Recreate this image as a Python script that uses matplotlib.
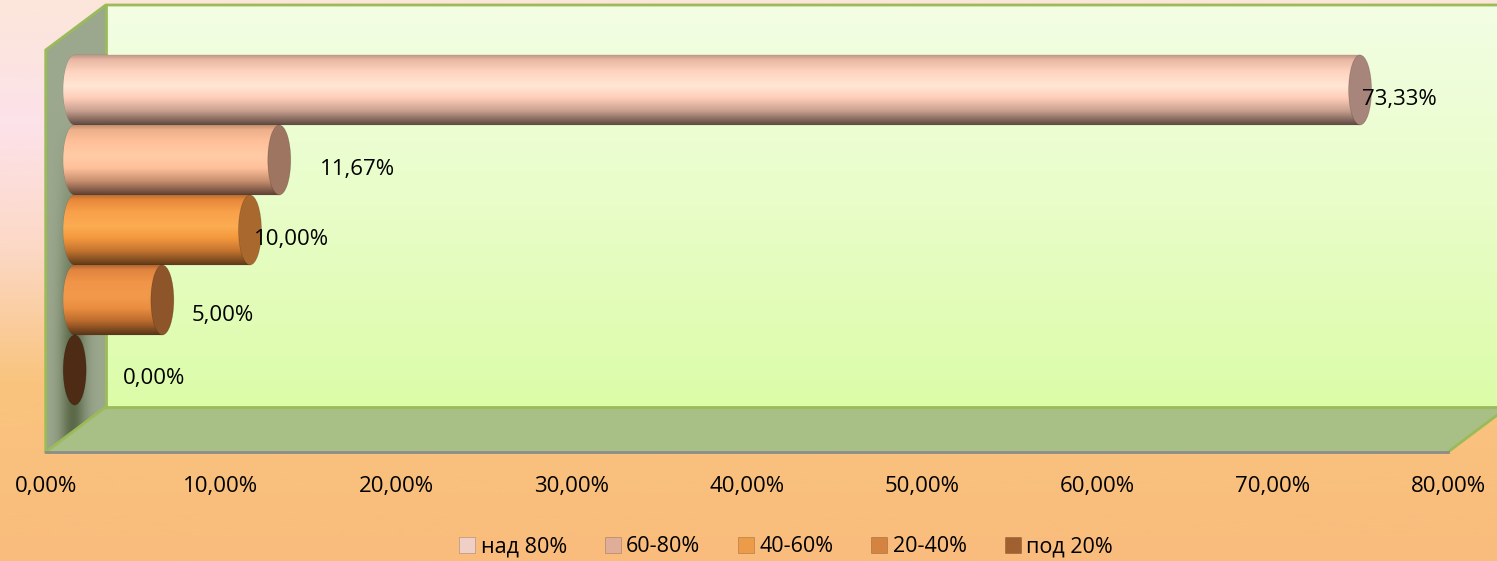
import numpy as np
import matplotlib
matplotlib.use("Agg")
from matplotlib import pyplot as plt
from matplotlib.colors import LinearSegmentedColormap, to_rgb
from matplotlib.patches import Polygon, Ellipse, Patch, PathPatch
from matplotlib.path import Path
from matplotlib.transforms import ScaledTranslation

plt.rcParams['font.family'] = ['Open Sans', 'DejaVu Sans']

# data, top bar first
categories = ["над 80%", "60-80%", "40-60%", "20-40%", "под 20%"]
values = [73.33, 11.67, 10.00, 5.00, 0.00]
ticks = [0, 10, 20, 30, 40, 50, 60, 70, 80]

# styles
body_stops = [
    ["#b89080", "#e8b8a4", "#ffd4c0", "#ffe6d4", "#ffcdb8", "#c8a090", "#5e4840"],
    ["#b88868", "#edb08a", "#ffc09a", "#ffcca6", "#ffc09a", "#c89070", "#5e4034"],
    ["#b06a2c", "#e8883a", "#f8a04a", "#fcac52", "#f4983e", "#c47430", "#5e3a18"],
    ["#a86030", "#e08440", "#f09448", "#f29a4c", "#ea8e40", "#bc6c2e", "#583418"],
    ["#4e2b14"] * 7,
]
stop_pos = [0.0, 0.08, 0.25, 0.45, 0.62, 0.8, 1.0]
cap_colors = ["#a8857a", "#9e7560", "#a8682e", "#8e552a", "#4e2b14"]
legend_colors = ["#f0d0c6", "#e0ae98", "#ec9c48", "#d48440", "#a06030"]
label_nudge = [(2, -10), (41, -10), (4, -10), (29, -15), (48, -8)]


def vgrad(stops, pos=None, n=256):
    if pos is None:
        pos = np.linspace(0, 1, len(stops))
    cm = LinearSegmentedColormap.from_list("g", list(zip(pos, [to_rgb(c) for c in stops])))
    return cm(np.linspace(0, 1, n))[:, None, :3]


fig = plt.figure(figsize=(14.97, 5.61), dpi=100)

# figure background
bg = fig.add_axes([0, 0, 1, 1])
bg.imshow(vgrad(["#fce6da", "#fce2ea", "#fcd8c4", "#f9c47e", "#f9bc7c"],
                [0.0, 0.22, 0.45, 0.68, 1.0]),
          extent=[0, 1, 0, 1], aspect='auto')
bg.set_xlim(0, 1)
bg.set_ylim(0, 1)
bg.axis('off')

W, H = 1497, 561
x0, x1, yb, yt = 45.7, 1448, 452, 50
ax = fig.add_axes([x0 / W, (H - yb) / H, (x1 - x0) / W, (yb - yt) / H])
ax.patch.set_alpha(0)

ddx = 60 / (x1 - x0)
ddy = 45 / (yb - yt)

# box: back wall, left wall (with shadow), floor
ax.imshow(vgrad(["#f3fee4", "#e8fdc8", "#dcfca8"]),
          extent=[ddx, 1 + ddx, ddy, 1 + ddy], transform=ax.transAxes,
          aspect='auto', clip_on=False, zorder=0)
lwall = Polygon([(0, 0), (0, 1), (ddx, 1 + ddy), (ddx, ddy)], closed=True,
                transform=ax.transAxes, fc="none", ec="none", clip_on=False, zorder=0.5)
ax.add_patch(lwall)
gx = np.linspace(0, 1, 64)[None, :]
gy = np.linspace(1, 0, 64)[:, None]
band = np.exp(-((gx - 0.45) / 0.22) ** 2) * np.clip((0.75 - gy) / 0.5, 0, 1)
base = np.array(to_rgb("#9ca88e"))
dark = np.array(to_rgb("#5c6a4a"))
shade = base[None, None, :] * (1 - band[..., None]) + dark[None, None, :] * band[..., None]
wim = ax.imshow(shade, extent=[0, ddx, 0, 1 + ddy], transform=ax.transAxes,
                aspect='auto', zorder=0.5, interpolation='bilinear')
wim.set_clip_box(fig.bbox)
wim.set_clip_path(lwall)
ax.add_patch(Polygon([(0, 0), (1, 0), (1 + ddx, ddy), (ddx, ddy)], closed=True,
                     transform=ax.transAxes, fc="#a8bf86", ec="none", clip_on=False, zorder=0.5))
edge = dict(color="#9bbb59", lw=2, transform=ax.transAxes, clip_on=False, zorder=0.6)
ax.plot([0, 0, ddx, 1 + ddx + 0.1], [0, 1, 1 + ddy, 1 + ddy], **edge)
ax.plot([ddx, ddx, 1 + ddx], [1 + ddy, ddy, ddy], **edge)
ax.plot([0, ddx], [0, ddy], **edge)
ax.plot([1, 1 + ddx], [0, ddy], **edge)
ax.plot([0, 1], [0, 0], color="#8c8c8c", lw=2, transform=ax.transAxes, clip_on=False, zorder=0.6)

# cylinders
trans = ax.transData + ScaledTranslation(29 / 100, 0, fig.dpi_scale_trans)
cap_w = 1.31
n = len(values)
for i, (v, cat) in enumerate(zip(values, categories)):
    y = n - 1 - i
    z = 2 + i
    if v > 0:
        t = np.linspace(-np.pi / 2, -3 * np.pi / 2, 60)
        pts = np.column_stack([cap_w / 2 * np.cos(t), y + 0.5 * np.sin(t)])
        pts = np.vstack([[v, y - 0.5], pts, [v, y + 0.5], [v, y - 0.5]])
        body = PathPatch(Path(pts, closed=True), transform=trans, fc="none",
                         ec="#00000022", lw=0.5, zorder=z)
        ax.add_patch(body)
        im = ax.imshow(vgrad(body_stops[i], stop_pos), extent=[-cap_w / 2, v, y - 0.5, y + 0.5],
                       transform=trans, aspect='auto', zorder=z, clip_on=True)
        im.set_clip_path(body)
    ax.add_patch(Ellipse((v, y), cap_w, 1.0, transform=trans, fc=cap_colors[i],
                         ec="#00000030", lw=0.5, zorder=z + 0.1))
    ax.annotate(f"{v:.2f}".replace('.', ',') + '%', (v, y), xycoords=trans,
                xytext=label_nudge[i], textcoords='offset pixels',
                ha='left', va='center', fontsize=16, color='black', zorder=20)

ax.set_xlim(0, 80)
ax.set_ylim(-1.171, 4.571)
ax.set_xticks(ticks)
ax.set_xticklabels([f"{t:.2f}".replace('.', ',') + '%' for t in ticks], fontsize=16)
ax.set_yticks([])
ax.tick_params(axis='x', length=0, pad=17)
for s in ax.spines.values():
    s.set_visible(False)

handles = [Patch(fc=c, ec="#00000040", lw=0.5) for c in legend_colors]
fig.legend(handles, categories, loc='center', bbox_to_anchor=(0.525, 0.025), ncol=5,
           frameon=False, fontsize=15.5, handlelength=0.75, handleheight=0.75,
           handletextpad=0.25, columnspacing=1.75)

fig.savefig("out.png", dpi=100)
